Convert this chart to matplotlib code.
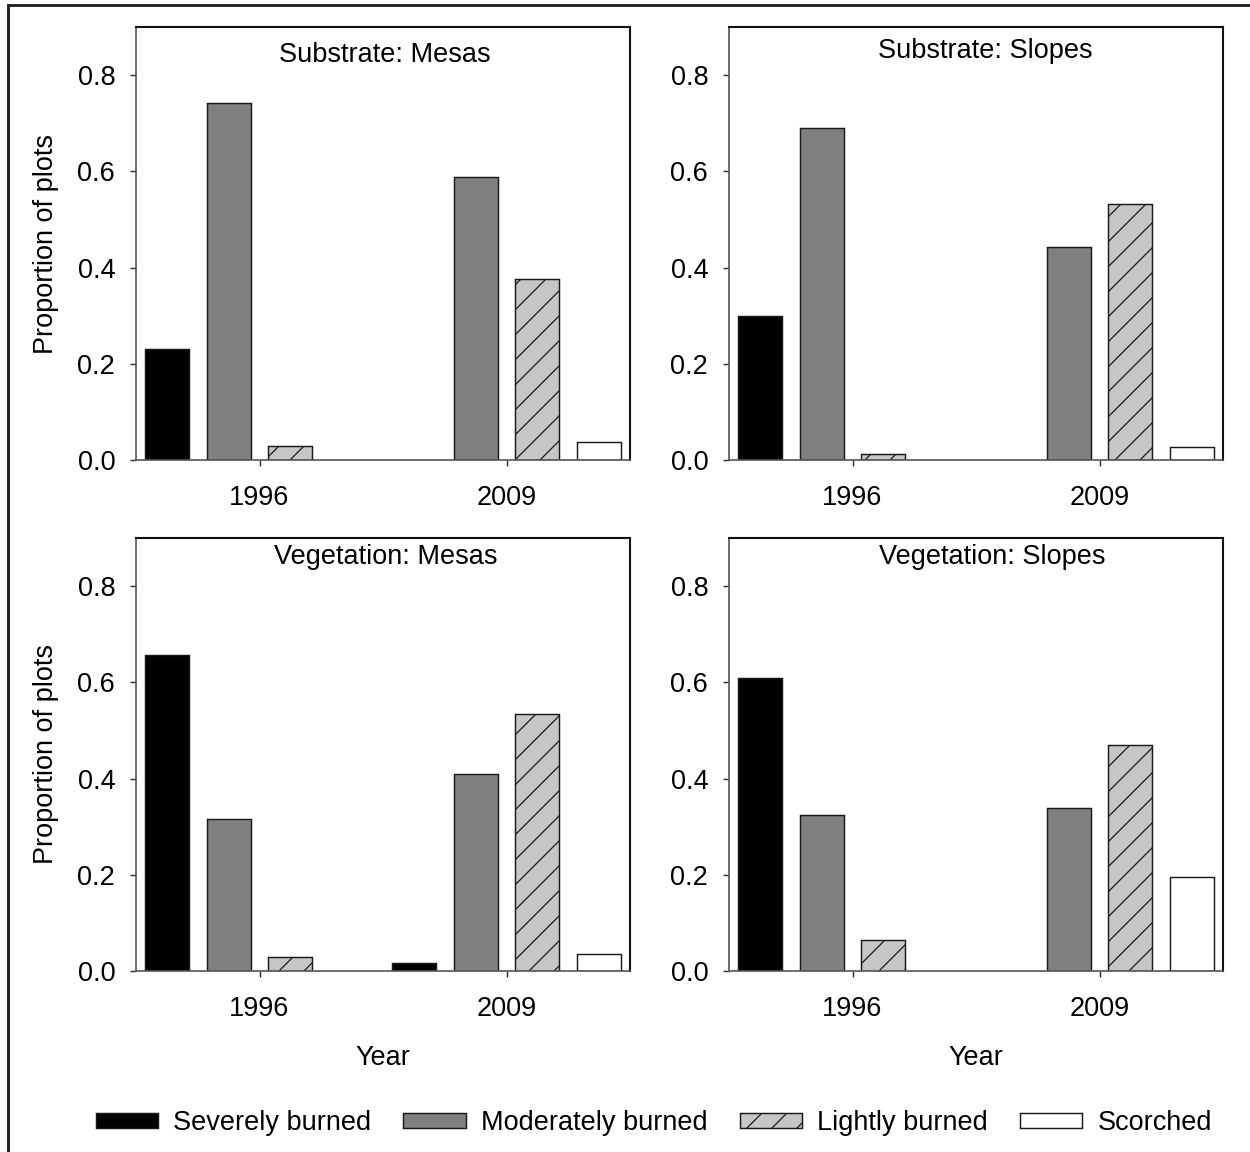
import numpy as np
import matplotlib
matplotlib.use("Agg")
import matplotlib.pyplot as plt
from matplotlib.patches import Rectangle, Patch

plt.rcParams['font.family'] = ['Liberation Sans', 'DejaVu Sans']
plt.rcParams['hatch.linewidth'] = 0.6

# data
years = ['1996', '2009']
categories = ['Severely burned', 'Moderately burned', 'Lightly burned', 'Scorched']
panel_titles = ['Substrate: Mesas', 'Substrate: Slopes',
                'Vegetation: Mesas', 'Vegetation: Slopes']

# each panel: rows = category, cols = year
substrate_mesas = [[0.230, 0.000], [0.743, 0.588], [0.029, 0.376], [0.000, 0.037]]
substrate_slopes = [[0.299, 0.000], [0.690, 0.443], [0.012, 0.532], [0.000, 0.027]]
vegetation_mesas = [[0.656, 0.017], [0.315, 0.410], [0.029, 0.535], [0.000, 0.035]]
vegetation_slopes = [[0.610, 0.000], [0.325, 0.338], [0.065, 0.469], [0.000, 0.196]]
panels = [substrate_mesas, substrate_slopes, vegetation_mesas, vegetation_slopes]

colors = ['#000000', '#808080', '#c6c6c6', '#ffffff']
hatches = [None, None, '//', None]
fs = 13

fig = plt.figure(figsize=(1250 / 150, 1152 / 150), dpi=150)

# outer frame (only left/top visible in the original)
fig.patches.append(Rectangle((8 / 1250, -0.1), 1.2, 1 - 5 / 1152 + 0.1,
                             transform=fig.transFigure, fill=False,
                             edgecolor='#222222', linewidth=1.4))

positions = [(136, 27), (729, 27), (136, 538), (729, 538)]
title_pos = [(0.503, 0.935), (0.518, 0.945), (0.505, 0.955), (0.532, 0.955)]
W, H = 494, 433

x = np.arange(len(years))
width = 0.178
offsets = [-0.375, -0.125, 0.125, 0.375]

for i, vals in enumerate(panels):
    px, py = positions[i]
    ax = fig.add_axes([px / 1250, 1 - (py + H) / 1152, W / 1250, H / 1152])
    for j, cat in enumerate(categories):
        v = np.array(vals[j])
        keep = v > 0
        ax.bar(x[keep] + offsets[j], v[keep], width, color=colors[j],
               edgecolor='#1a1a1a', linewidth=0.7, hatch=hatches[j], zorder=2)
    ax.set_xlim(-0.5, 1.5)
    ax.set_ylim(0, 0.9)
    ax.set_yticks([0, 0.2, 0.4, 0.6, 0.8])
    ax.set_yticklabels(['0.0', '0.2', '0.4', '0.6', '0.8'])
    ax.set_xticks(x)
    ax.set_xticklabels(years)
    ax.tick_params(direction='out', length=3, width=0.7, labelsize=fs,
                   color='#333333')
    ax.tick_params(axis='y', pad=7)
    ax.tick_params(axis='x', pad=9)
    for s in ['left', 'bottom']:
        ax.spines[s].set_color('#555555')
        ax.spines[s].set_linewidth(0.8)
    for s in ['top', 'right']:
        ax.spines[s].set_color('#111111')
        ax.spines[s].set_linewidth(1.0)
    tx, ty = title_pos[i]
    ax.text(tx, ty, panel_titles[i], transform=ax.transAxes, ha='center',
            va='center', fontsize=fs)
    if i % 2 == 0:
        ax.set_ylabel('Proportion of plots', fontsize=fs, labelpad=9)
    if i >= 2:
        ax.set_xlabel('Year', fontsize=fs, labelpad=11)

handles = [Patch(facecolor=colors[j], edgecolor='#1a1a1a', linewidth=0.7,
                 hatch=hatches[j]) for j in range(4)]
fig.legend(handles, categories, ncol=4, loc='center', frameon=False,
           bbox_to_anchor=(0.523, 1 - 1123 / 1152), fontsize=fs,
           handlelength=2.3, handleheight=0.5, handletextpad=0.55,
           columnspacing=1.2)

fig.savefig('out.png', dpi=150)
